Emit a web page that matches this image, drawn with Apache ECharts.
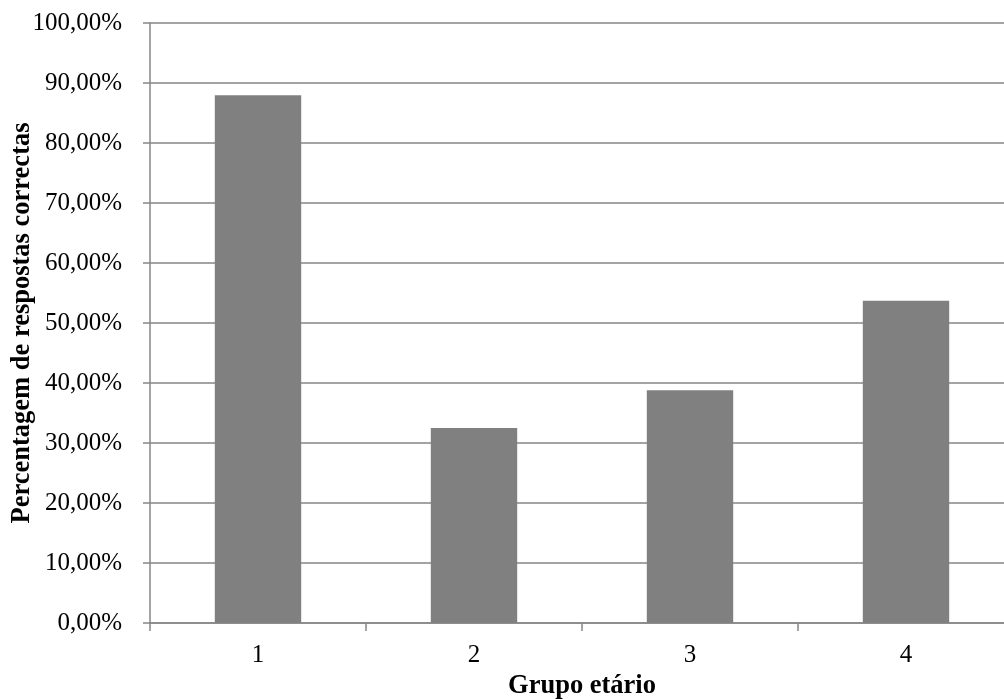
<!DOCTYPE html>
<html>
<head>
<meta charset="utf-8">
<script src="https://cdn.jsdelivr.net/npm/echarts@6/dist/echarts.min.js"></script>
<style>html,body{margin:0;padding:0;background:#fff}#c{width:1004px;height:699px}</style>
</head>
<body>
<div id="c"></div>
<script>
const categories = ['1', '2', '3', '4'];
const values = [87.96, 32.48, 38.81, 53.69];
const yTicks = [0, 10, 20, 30, 40, 50, 60, 70, 80, 90, 100];
const xName = 'Grupo etário';
const yName = 'Percentagem de respostas correctas';

const font = '"Liberation Serif", "Times New Roman", serif';
const chart = echarts.init(document.getElementById('c'));
chart.setOption({
  animation: false,
  backgroundColor: '#fff',
  grid: { left: 150, top: 23, width: 864, height: 600, containLabel: false, outerBoundsMode: 'none' },
  xAxis: {
    type: 'category',
    data: categories,
    name: xName,
    nameLocation: 'middle',
    nameGap: 50,
    nameMoveOverlap: false,
    nameTextStyle: { fontFamily: font, fontSize: 26.5, fontWeight: 'bold', color: '#000' },
    axisLine: { lineStyle: { color: '#868686', width: 1.5 } },
    axisTick: { show: true, length: 8, alignWithLabel: false, lineStyle: { color: '#868686', width: 1.5 } },
    axisLabel: { fontFamily: font, fontSize: 25, color: '#000', margin: 20 }
  },
  yAxis: {
    type: 'value',
    min: yTicks[0],
    max: yTicks[yTicks.length - 1],
    interval: 10,
    name: yName,
    nameLocation: 'middle',
    nameGap: 114,
    nameMoveOverlap: false,
    nameTextStyle: { fontFamily: font, fontSize: 26.5, fontWeight: 'bold', color: '#000' },
    axisLine: { show: true, lineStyle: { color: '#868686', width: 1.5 } },
    axisTick: { show: true, length: 7, lineStyle: { color: '#868686', width: 1.5 } },
    axisLabel: {
      fontFamily: font, fontSize: 25, color: '#000', margin: 28,
      formatter: v => v.toFixed(2).replace('.', ',') + '%'
    },
    splitLine: { show: true, lineStyle: { color: '#868686', width: 1.5 } }
  },
  series: [{
    type: 'bar',
    data: values,
    barWidth: '40%',
    itemStyle: { color: '#808080' }
  }]
});
</script>
</body>
</html>
